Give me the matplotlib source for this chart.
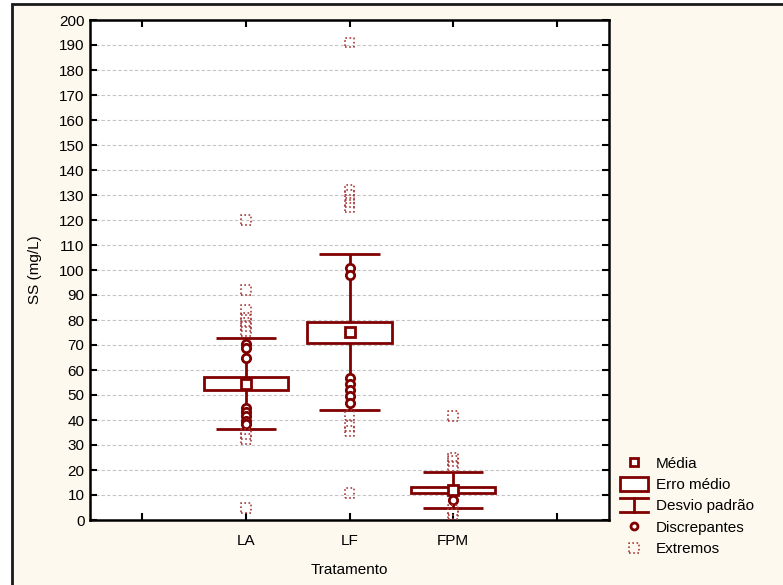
import numpy as np
import matplotlib
matplotlib.use('Agg')
import matplotlib.pyplot as plt
from matplotlib.patches import Patch, Rectangle
from matplotlib.lines import Line2D
from matplotlib.legend_handler import HandlerBase

plt.rcParams['font.family'] = ['Liberation Sans', 'DejaVu Sans']

# Dados
grupos = ['LA', 'LF', 'FPM']
media = [54.5, 75.2, 12.0]
erro_inf = [52.1, 70.8, 11.0]
erro_sup = [57.3, 79.4, 13.2]
desvio_inf = [36.5, 44.0, 4.9]
desvio_sup = [73.0, 106.5, 19.4]

discrepantes_la = [70.5, 68.8, 64.8, 45.0, 43.2, 41.5, 39.8, 38.3]
discrepantes_lf = [101.0, 98.0, 56.8, 54.6, 52.2, 49.6, 47.0]
discrepantes_fpm = [8.0]

extremos_la = [120.0, 92.0, 84.0, 81.0, 79.0, 77.5, 75.5, 34.5, 32.5, 4.8]
extremos_lf = [191.0, 132.0, 130.0, 127.0, 125.0, 42.0, 37.5, 35.5, 10.8]
extremos_fpm = [41.5, 25.0, 23.5, 21.5, 4.0, 2.5]

cor = '#800000'
cor_ext = '#a83a3a'
creme = '#fef9ee'

fig = plt.figure(figsize=(7.83, 5.85), dpi=100, facecolor='white')

# moldura creme com borda preta
fig.patches.append(Rectangle((12 / 783, -0.1), 1.2, (585 - 4) / 585 + 0.1,
                             transform=fig.transFigure, facecolor=creme,
                             edgecolor='#1a1a1a', linewidth=2, zorder=-5))

ax = fig.add_axes([90 / 783, 65 / 585, 519 / 783, 500 / 585])
ax.set_facecolor('white')

pos = np.arange(1, len(grupos) + 1)
media = np.array(media)
erro_inf = np.array(erro_inf)
erro_sup = np.array(erro_sup)

# desvio padrao (bigodes)
ax.vlines(pos, desvio_inf, erro_inf, color=cor, linewidth=2, zorder=2)
ax.vlines(pos, erro_sup, desvio_sup, color=cor, linewidth=2, zorder=2)
ax.hlines(desvio_inf, pos - 0.29, pos + 0.29, color=cor, linewidth=2, zorder=2)
ax.hlines(desvio_sup, pos - 0.29, pos + 0.29, color=cor, linewidth=2, zorder=2)

# erro medio (caixa)
ax.bar(pos, erro_sup - erro_inf, bottom=erro_inf, width=0.81,
       facecolor='white', edgecolor=cor, linewidth=2, zorder=3)

# discrepantes
for p, vals in zip(pos, [discrepantes_la, discrepantes_lf, discrepantes_fpm]):
    ax.plot(np.full(len(vals), p), vals, linestyle='none', marker='o',
            markersize=6, markerfacecolor='white', markeredgecolor=cor,
            markeredgewidth=2, zorder=4)

# extremos
for p, vals in zip(pos, [extremos_la, extremos_lf, extremos_fpm]):
    sc = ax.scatter(np.full(len(vals), p), vals, marker='s', s=50,
                    facecolors='none', edgecolors=cor_ext, linewidths=1.2,
                    linestyles=(0, (1, 1.5)), zorder=4)

# media
ax.plot(pos, media, linestyle='none', marker='s', markersize=7,
        markerfacecolor='white', markeredgecolor=cor, markeredgewidth=2,
        zorder=5)

ax.set_xlim(-0.5, 4.5)
ax.set_ylim(0, 200)
ax.set_xticks([0, 1, 2, 3, 4])
ax.set_xticklabels([''] + grupos + [''])
ax.set_yticks(np.arange(0, 201, 10))
ax.tick_params(axis='both', direction='in', length=5, width=1.5,
               top=True, right=True, labelsize=11, colors='black')
ax.tick_params(axis='x', pad=10)
ax.tick_params(axis='y', pad=4)
ax.yaxis.grid(True, color='#c4c4c4', linestyle=(0, (3, 2)), linewidth=0.8)
ax.set_axisbelow(True)
for s in ax.spines.values():
    s.set_linewidth(1.8)
    s.set_color('black')

ax.set_xlabel('Tratamento', fontsize=11, labelpad=11)
ax.set_ylabel('SS (mg/L)', fontsize=11, labelpad=12)


class HandlerDesvio(HandlerBase):
    def create_artists(self, legend, orig_handle, xdescent, ydescent,
                       width, height, fontsize, trans):
        x0, x1 = -xdescent, -xdescent + width
        y0, y1 = -ydescent, -ydescent + height
        xm = (x0 + x1) / 2
        linhas = [Line2D([x0, x1], [y1, y1]), Line2D([x0, x1], [y0, y0]),
                  Line2D([xm, xm], [y0, y1])]
        for l in linhas:
            l.set_color(cor)
            l.set_linewidth(2)
            l.set_transform(trans)
        return linhas


h_media = Line2D([], [], linestyle='none', marker='s', markersize=6,
                 markerfacecolor='white', markeredgecolor=cor, markeredgewidth=2)
h_erro = Patch(facecolor='white', edgecolor=cor, linewidth=2)
h_desvio = Line2D([], [], color=cor)
h_disc = Line2D([], [], linestyle='none', marker='o', markersize=5,
                markerfacecolor='white', markeredgecolor=cor, markeredgewidth=2)

fig.legend([h_media, h_erro, h_desvio, h_disc, sc],
           ['Média', 'Erro médio', 'Desvio padrão', 'Discrepantes', 'Extremos'],
           handler_map={h_desvio: HandlerDesvio()},
           loc='upper left', bbox_to_anchor=(620 / 783, (585 - 456) / 585),
           frameon=False, fontsize=11, handlelength=1.85, handleheight=1.0,
           handletextpad=0.5, labelspacing=0.4, borderpad=0, borderaxespad=0,
           scatterpoints=1)

plt.savefig('out.png', dpi=100, facecolor='white')
